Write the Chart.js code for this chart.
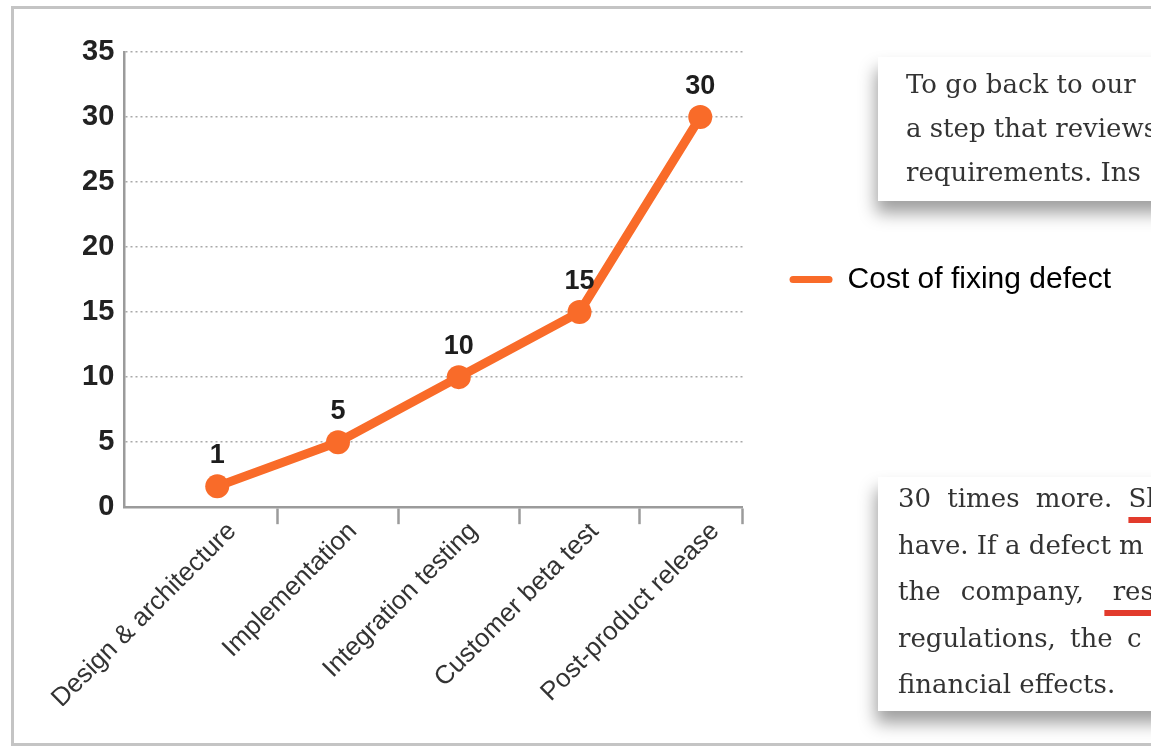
<!DOCTYPE html>
<html>
<head>
<meta charset="utf-8">
<script src="https://cdn.jsdelivr.net/npm/chart.js@4.4.1/dist/chart.umd.min.js"></script>
<style>
  html, body { margin: 0; padding: 0; width: 1151px; height: 747px; overflow: hidden; background: #fff; }
  #frame { position: absolute; left: 11px; top: 6px; width: 1300px; height: 740px; box-sizing: border-box; border: 3px solid #c4c4c4; }
  #wrap { position: absolute; left: 0; top: 0; width: 1151px; height: 747px; }
  .note { position: absolute; left: 878px; width: 340px; background: #fff;
          box-shadow: -2px 12px 16px rgba(0, 0, 0, 0.38);
          font-family: "DejaVu Serif", serif; font-size: 26px; color: #333; white-space: pre; }
  #note1 { top: 57px; height: 144px; padding: 5px 0 0 28px; box-sizing: border-box; line-height: 44px; }
  #note2 { top: 477px; height: 234px; padding: 0 0 0 20px; box-sizing: border-box; line-height: 46.5px; }
  #note2 .lines { position: relative; top: -2px; }
  .red { text-decoration: underline; text-decoration-color: #e23b2c; text-decoration-thickness: 6px; text-underline-offset: 10px; word-spacing: 0; }
</style>
</head>
<body>
<div id="frame"></div>
<div id="wrap"><canvas id="chart"></canvas></div>
<div class="note" id="note1"><div>To go back to our</div><div>a step that reviews</div><div>requirements. Ins</div></div>
<div class="note" id="note2"><div class="lines"><div style="word-spacing:8px">30 times more. <span class="red">Sh</span></div><div>have. If a defect m</div><div style="word-spacing:12px">the company, <span class="red"> res</span></div><div style="word-spacing:6px">regulations, the c</div><div>financial effects.</div></div></div>
<script>
// cost of fixing a defect by stage
const stages = ['Design & architecture', 'Implementation', 'Integration testing', 'Customer beta test', 'Post-product release'];
const costValues = [1.6, 5, 10, 15, 30];   // first marker sits a bit above 1 in the picture
const costLabels = ['1', '5', '10', '15', '30'];
const yTicks = [0, 5, 10, 15, 20, 25, 30, 35];
const seriesName = 'Cost of fixing defect';

const orange = '#f96b29';
const axisGray = '#9b9b9b';
const sans = '"Liberation Sans", Arial, sans-serif';

Chart.defaults.font.family = sans;

// numbers above the points
const valueLabels = {
  id: 'valueLabels',
  afterDatasetsDraw(chart) {
    const ctx = chart.ctx;
    const meta = chart.getDatasetMeta(0);
    ctx.save();
    ctx.font = 'bold 27px ' + sans;
    ctx.fillStyle = '#1d1d1d';
    ctx.textAlign = 'center';
    ctx.textBaseline = 'alphabetic';
    meta.data.forEach((pt, i) => ctx.fillText(costLabels[i], pt.x, pt.y - 23));
    ctx.restore();
  }
};

const canvas = document.getElementById('chart');
canvas.width = 1151;
canvas.height = 747;

new Chart(canvas, {
  type: 'line',
  plugins: [valueLabels],
  data: {
    datasets: [{
      label: seriesName,
      data: costValues.map((v, i) => ({ x: i, y: v })),
      borderColor: orange,
      backgroundColor: orange,
      borderWidth: 9,
      tension: 0,
      pointRadius: 12,
      pointHoverRadius: 12,
      pointBorderWidth: 0,
      pointBackgroundColor: orange
    }]
  },
  options: {
    responsive: false,
    animation: false,
    events: [],
    layout: { padding: { left: 72, top: 52, right: 30, bottom: 41 } },
    plugins: {
      tooltip: { enabled: false },
      legend: {
        position: 'right',
        align: 'center',
        fullSize: false,
        maxWidth: 420,
        labels: {
          boxWidth: 43,
          boxHeight: 7,
          padding: 47,
          color: '#333',
          font: { size: 30 },
          useBorderRadius: true,
          borderRadius: 3.5,
          generateLabels: () => [{
            text: seriesName, fillStyle: orange, strokeStyle: orange,
            lineWidth: 0, borderRadius: 3.5, datasetIndex: 0
          }]
        }
      }
    },
    scales: {
      x: {
        type: 'linear',
        min: -0.77,
        max: 4.35,
        weight: 1,
        afterBuildTicks: s => { s.ticks = stages.map((_, i) => ({ value: i })); },
        ticks: {
          callback: v => stages[v],
          autoSkip: false,
          minRotation: 45,
          maxRotation: 45,
          padding: -8,
          labelOffset: 15,
          color: '#333',
          font: { size: 26 }
        },
        grid: { display: false, drawTicks: false },
        border: { display: false }
      },
      // second bottom axis only carries the axis line and the tick marks between stages
      xTicks: {
        type: 'linear',
        axis: 'x',
        position: 'bottom',
        min: -0.77,
        max: 4.35,
        weight: 0,
        afterBuildTicks: s => {
          s.ticks = stages.slice(1).map((_, i) => ({ value: i + 0.5 }));
          s.ticks.push({ value: s.max });
        },
        ticks: { display: false },
        grid: { drawOnChartArea: false, tickLength: 17, tickColor: axisGray, tickWidth: 2.5 },
        border: { color: axisGray, width: 2.5 }
      },
      y: {
        min: 0,
        max: 35,
        afterBuildTicks: s => { s.ticks = yTicks.map(v => ({ value: v })); },
        ticks: { padding: 10, color: '#222', font: { size: 29, weight: 'bold' } },
        grid: { color: '#a9a9a9', lineWidth: 1.5, drawTicks: false },
        border: { color: axisGray, width: 2.5, dash: [2, 3] }
      }
    }
  }
});
</script>
</body>
</html>
